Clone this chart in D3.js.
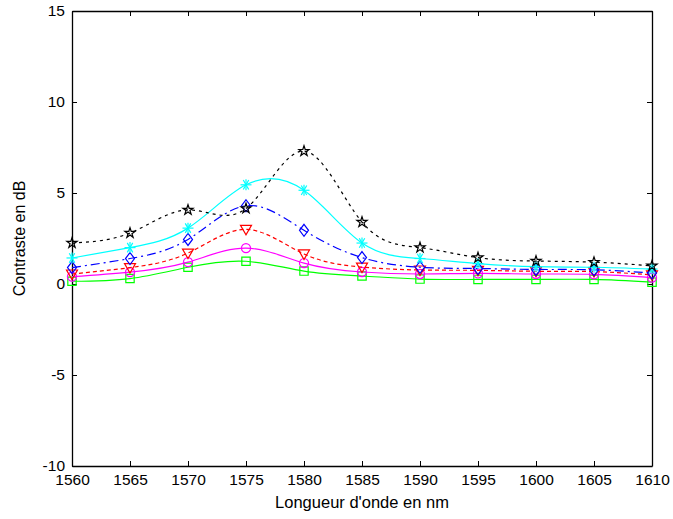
<!DOCTYPE html>
<html><head><meta charset="utf-8">
<script src="https://cdn.jsdelivr.net/npm/d3@7"></script>
<style>body{margin:0;background:#fff}text{font-family:"Liberation Sans",Arial,sans-serif}</style>
</head><body><svg id="c" width="673" height="519"></svg>
<script>
const wavelengths = [1560,1565,1570,1575,1580,1585,1590,1595,1600,1605,1610];
const xTicks = [1560,1565,1570,1575,1580,1585,1590,1595,1600,1605,1610];
const yTicks = [-10,-5,0,5,10,15];
const blackStar   = [2.25,2.8,4.07,4.15,7.3,3.4,2.0,1.45,1.26,1.2,1.0];
const cyanAster   = [1.43,2.0,3.07,5.45,5.15,2.25,1.4,1.12,0.95,0.92,0.82];
const blueDiamond = [0.9,1.4,2.45,4.3,2.95,1.45,0.92,0.85,0.8,0.78,0.6];
const redTriangle = [0.55,0.9,1.7,3.0,1.65,0.93,0.77,0.75,0.7,0.68,0.5];
const magCircle   = [0.4,0.65,1.2,1.97,1.15,0.66,0.55,0.58,0.55,0.53,0.35];
const greenSquare = [0.15,0.3,0.92,1.25,0.71,0.44,0.27,0.25,0.25,0.25,0.1];

const series = [
  {v: greenSquare, color:"#00ff00", dash:null, marker:"square"},
  {v: magCircle, color:"#ff00ff", dash:null, marker:"circle"},
  {v: redTriangle, color:"#ff0000", dash:"4,3", marker:"tri"},
  {v: blueDiamond, color:"#0000ff", dash:"9,4,2,4", marker:"diamond"},
  {v: cyanAster, color:"#00ffff", dash:null, marker:"aster"},
  {v: blackStar, color:"#000000", dash:"3,4", marker:"star"}
];

const L=72,R=652,T=11,B=466;
const svg=d3.select("#c");
const x=d3.scaleLinear().domain([1560,1610]).range([L,R]);
const y=d3.scaleLinear().domain([-10,15]).range([B,T]);
const fmt=d=>String(d);

const g=svg.append("g");
const axB=d3.axisBottom(x).tickValues(xTicks).tickSizeInner(-5).tickSizeOuter(0).tickPadding(8).tickFormat(fmt);
const axL=d3.axisLeft(y).tickValues(yTicks).tickSizeInner(-5).tickSizeOuter(0).tickPadding(7).tickFormat(fmt);
const axT=d3.axisTop(x).tickValues(xTicks).tickSizeInner(-5).tickSizeOuter(0).tickFormat("");
const axR=d3.axisRight(y).tickValues(yTicks).tickSizeInner(-5).tickSizeOuter(0).tickFormat("");
function style(sel){sel.selectAll("path").attr("stroke","#000").attr("stroke-width",1.3);sel.selectAll("line").attr("stroke","#000");sel.selectAll("text").attr("font-size",15.5).attr("fill","#000").attr("font-family","Liberation Sans, Arial, sans-serif");}
g.append("g").attr("transform",`translate(0,${B})`).call(axB).call(style);
g.append("g").attr("transform",`translate(${L},0)`).call(axL).call(style);
g.append("g").attr("transform",`translate(0,${T})`).call(axT).call(style);
g.append("g").attr("transform",`translate(${R},0)`).call(axR).call(style);

const line=d3.line().x((d,i)=>x(wavelengths[i])).y(d=>y(d)).curve(d3.curveNatural);
const sym={
  square:d3.symbol().type(d3.symbolSquare).size(70),
  circle:d3.symbol().type(d3.symbolCircle).size(65),
  star:d3.symbol().type(d3.symbolStar).size(32)
};
series.forEach(s=>{
  g.append("path").attr("d",line(s.v)).attr("fill","none").attr("stroke",s.color).attr("stroke-width",1.2)
   .attr("stroke-dasharray",s.dash);
  const mg=g.append("g");
  s.v.forEach((d,i)=>{
    const cx=x(wavelengths[i]), cy=y(d);
    const m=mg.append("g").attr("transform",`translate(${cx},${cy})`);
    if(s.marker==="diamond"){
      m.append("path").attr("d","M0,-6L4.5,0L0,6L-4.5,0Z").attr("fill","none").attr("stroke",s.color).attr("stroke-width",1.2);
    } else if(s.marker==="tri"){
      m.append("path").attr("d","M-5.5,-4L5.5,-4L0,5.5Z").attr("fill","none").attr("stroke",s.color).attr("stroke-width",1.2);
    } else if(s.marker==="aster"){
      [0,60,120].forEach(a=>{const r=a*Math.PI/180;m.append("line").attr("x1",-5.5*Math.cos(r)).attr("y1",-5.5*Math.sin(r)).attr("x2",5.5*Math.cos(r)).attr("y2",5.5*Math.sin(r)).attr("stroke",s.color).attr("stroke-width",1.2);});
      m.append("line").attr("x1",0).attr("y1",-5.5).attr("x2",0).attr("y2",5.5).attr("stroke",s.color).attr("stroke-width",1.2);
    } else {
      m.append("path").attr("d",sym[s.marker]()).attr("fill","none").attr("stroke",s.color).attr("stroke-width",1.2);
    }
  });
});

svg.append("text").attr("x",362).attr("y",508).attr("text-anchor","middle").attr("font-size",16.5).text("Longueur d'onde en nm");
svg.append("text").attr("transform",`translate(25,${(T+B)/2}) rotate(-90)`).attr("text-anchor","middle").attr("font-size",16).text("Contraste en dB");
</script></body></html>
